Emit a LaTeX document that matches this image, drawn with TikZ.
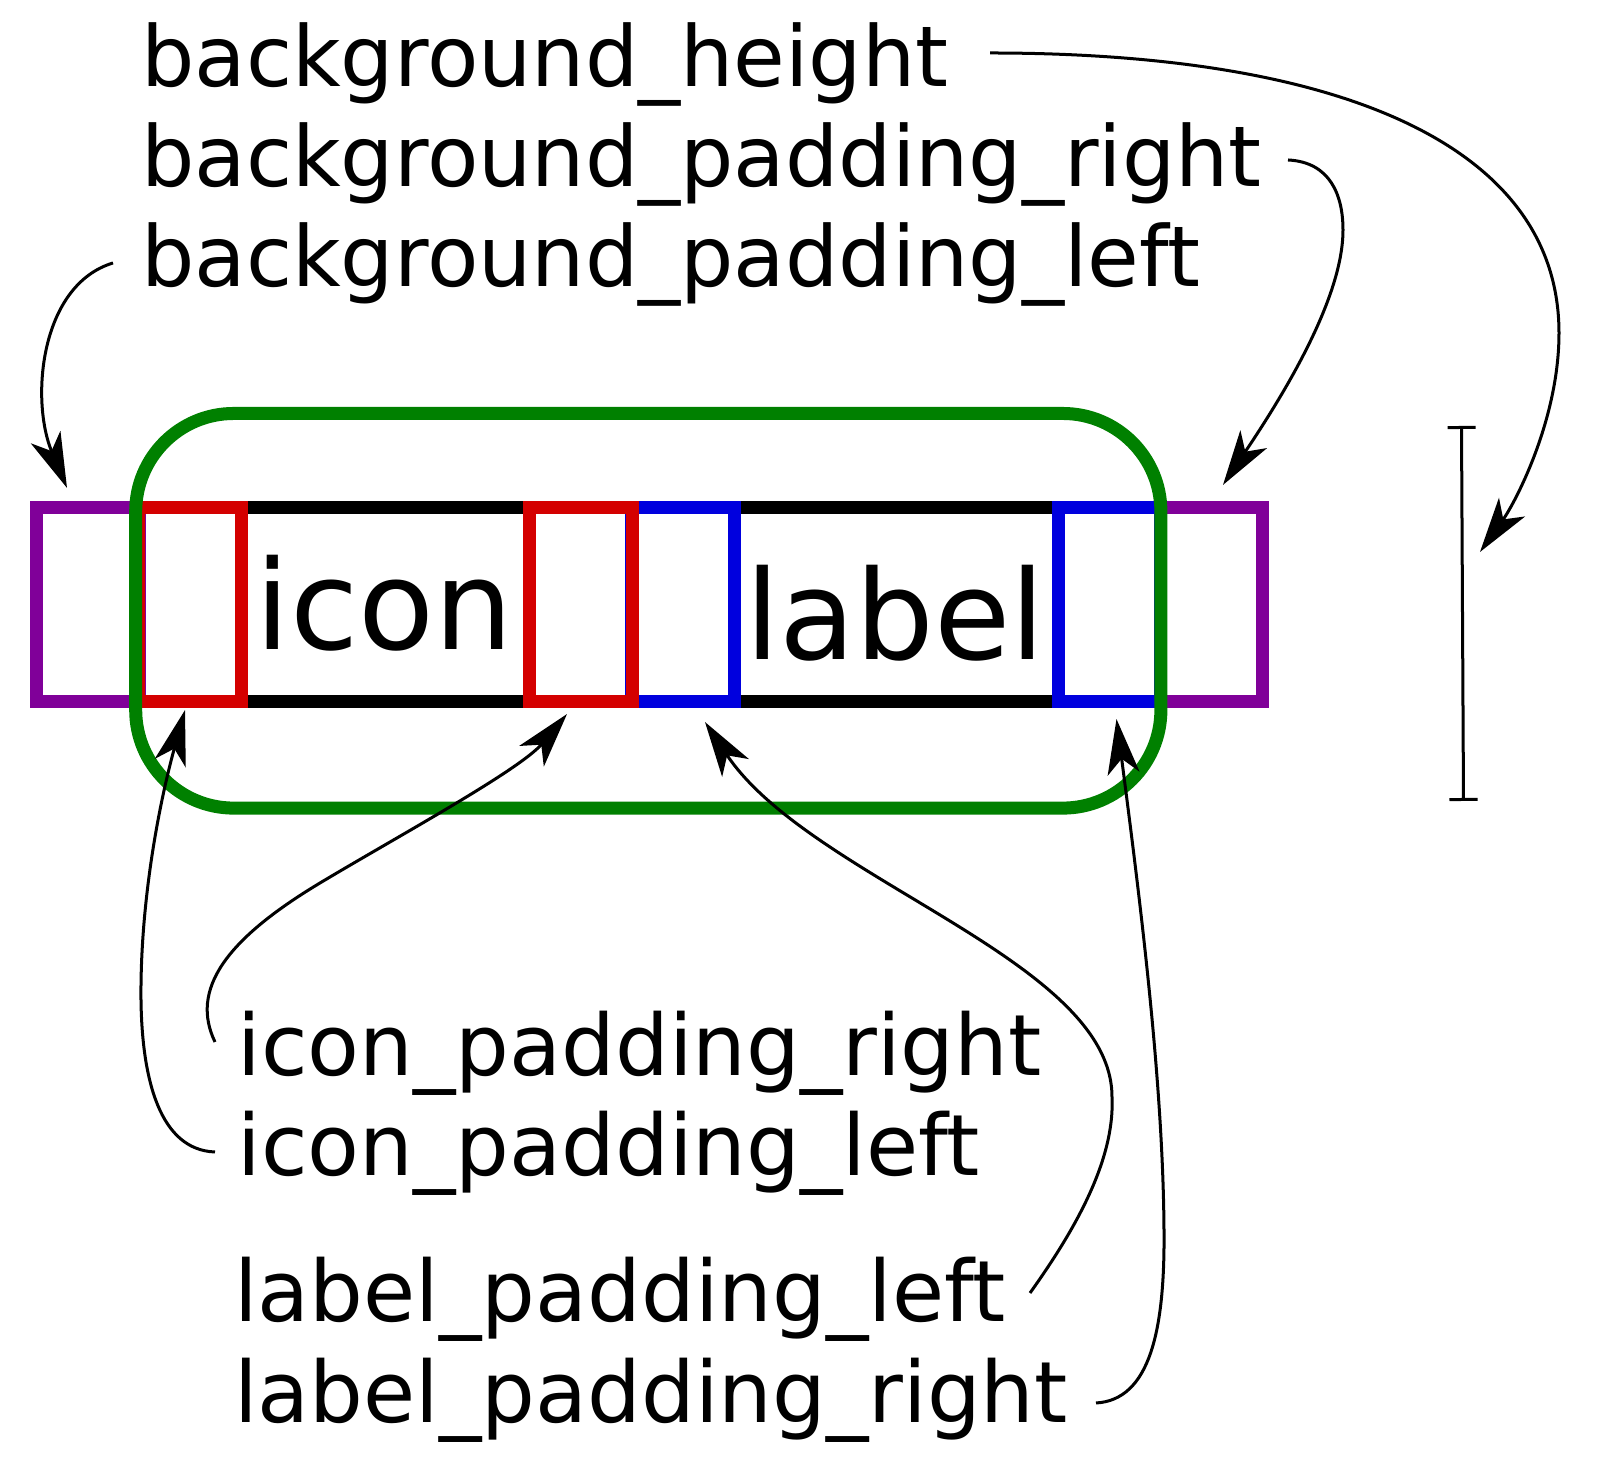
\documentclass[tikz,border=0pt]{standalone}
\usepackage{fontspec}
\setmainfont{DejaVu Sans}
\usetikzlibrary{calc,arrows.meta}
\definecolor{padpurple}{RGB}{128,0,153}
\definecolor{padred}{RGB}{212,0,0}
\definecolor{padblue}{RGB}{0,0,222}
\definecolor{padgreen}{RGB}{0,128,0}
\begin{document}
\begin{tikzpicture}[x=0.01cm,y=-0.01cm,padbox/.style={draw,line width=0.13cm,minimum width=1.02cm,minimum height=1.93cm,inner sep=0pt},bgframe/.style={draw=padgreen,line width=0.13cm,rounded corners=0.98cm,minimum width=10.246cm,minimum height=3.944cm,inner sep=0pt},caption/.style={inner sep=0pt,anchor=base west,font=\fontsize{24.1pt}{28pt}\selectfont},topcaption/.style={caption,font=\fontsize{23.9pt}{28pt}\selectfont},content/.style={inner sep=0pt,anchor=base west,font=\fontsize{35.3pt}{42pt}\selectfont},arrow/.style={-{Stealth[length=0.55cm,width=0.32cm,inset=0.15cm]},line width=0.03cm}]
  \useasboundingbox (0,0) rectangle (1605,1471);
  \node[padbox,minimum width=10.215cm] (widget) at (649.75,604.5) {};
  \node[padbox,draw=padpurple] (bgleft) at (88,604.5) {};
  \node[padbox,draw=padpurple] (bgright) at ($ (bgleft) + (1123.5,0) $) {};
  \node[padbox,draw=padblue] (labelright) at ($ (bgright) + (-102,0) $) {};
  \node[padbox,draw=padblue] (labelleft) at ($ (labelright) + (-426.5,0) $) {};
  \node[padbox,draw=padred] (iconleft) at ($ (bgleft) + (102,0) $) {};
  \node[padbox,draw=padred] (iconright) at ($ (labelleft) + (-102,0) $) {};
  \node[bgframe] (frame) at (648.3,610.8) {};
  \node[content] (icontext) at (254.8,649.3) {icon};
  \node[content] (labeltext) at (744.3,659.3) {label};
  \node[topcaption] (height) at (140.5,87) {background\_height};
  \node[topcaption] (bgpadright) at ($ (height.base west) + (0,100) $) {background\_padding\_right};
  \node[topcaption] (bgpadleft) at ($ (bgpadright.base west) + (0,100) $) {background\_padding\_left};
  \node[caption] (iconpadright) at (236.8,1076) {icon\_padding\_right};
  \node[caption] (iconpadleft) at ($ (iconpadright.base west) + (0,100) $) {icon\_padding\_left};
  \node[caption] (labelpadleft) at (233.7,1322) {label\_padding\_left};
  \node[caption] (labelpadright) at ($ (labelpadleft.base west) + (0,101) $) {label\_padding\_right};
  \coordinate (bartop) at (1461.5,426);
  \coordinate (barbottom) at (1463.5,801);
  \draw[line width=0.03cm,{Bar[width=0.28cm]}-{Bar[width=0.28cm]}] (bartop) -- (barbottom);
  \coordinate (heightfrom) at (990,53);
  \coordinate (bgpadrightfrom) at (1288,160);
  \coordinate (bgpadleftfrom) at (113,263);
  \coordinate (iconpadrightfrom) at (215,1042);
  \coordinate (iconpadleftfrom) at (215,1152);
  \coordinate (labelpadleftfrom) at (1030,1293);
  \coordinate (labelpadrightfrom) at (1096,1403);
  \draw[arrow] (heightfrom) .. controls (1350,53) and (1559,150) .. (1559,333) .. controls (1559,420) and (1515,503) .. ($ (bartop) + (18.5,126) $);
  \draw[arrow] (bgpadrightfrom) .. controls (1330,162) and (1343,195) .. (1343,230) .. controls (1343,300) and (1280,400) .. ($ (bgright.north) + (11.5,-16.5) $);
  \draw[arrow] (bgpadleftfrom) .. controls (40,285) and (30,400) .. ($ (bgleft.north) + (-21,-13.5) $);
  \draw[arrow] (iconpadleftfrom) .. controls (160,1150) and (142,1080) .. (141,1000) .. controls (140,900) and (160,800) .. ($ (iconleft.south) + (-5,2.5) $);
  \draw[arrow] (iconpadrightfrom) .. controls (190,990) and (225,940) .. (320,883) .. controls (395,838) and (520,770) .. ($ (iconright.south) + (-14,6.5) $);
  \draw[arrow] (labelpadleftfrom) .. controls (1075,1230) and (1115,1160) .. (1112,1097) .. controls (1112,960) and (810,880) .. ($ (labelleft.south) + (22,14.5) $);
  \draw[arrow] (labelpadrightfrom) .. controls (1150,1400) and (1165,1330) .. (1164,1230) .. controls (1163,1080) and (1140,900) .. ($ (labelright.south) + (7,11.5) $);
\end{tikzpicture}
\end{document}
